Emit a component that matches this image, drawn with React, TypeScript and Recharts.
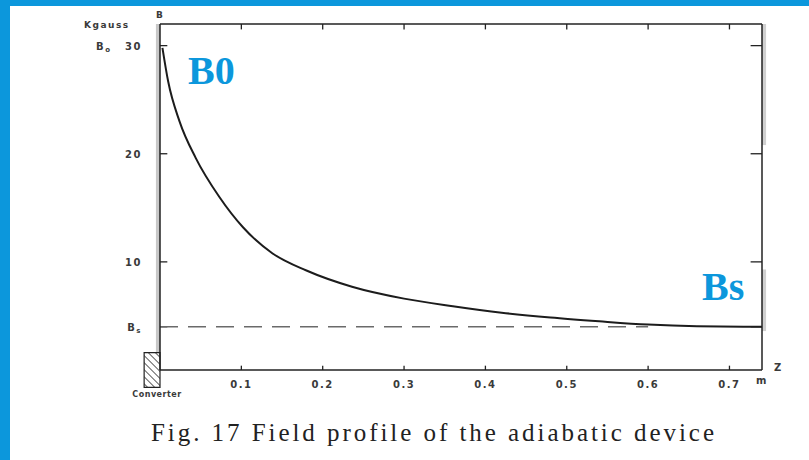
import React from "react";
import {
  ComposedChart,
  Line,
  XAxis,
  YAxis,
  ReferenceLine,
  ReferenceArea,
} from "recharts";

// field profile: position z (m) and field B (kGauss)
const zValues = [0.003, 0.01, 0.024, 0.044, 0.073, 0.102, 0.138, 0.18, 0.236, 0.3, 0.36, 0.42, 0.48, 0.54, 0.6, 0.66, 0.74];
const bValues = [29.8, 26.7, 23.0, 19.6, 16.0, 13.2, 10.8, 9.2, 7.7, 6.6, 5.9, 5.3, 4.85, 4.5, 4.2, 4.05, 4.0];

const xTicks = [0.1, 0.2, 0.3, 0.4, 0.5, 0.6, 0.7];
const yTicks = [4, 10, 20, 30];
const bS = 4; // solenoid field
const dashEnd = 0.6;
const X_MAX = 0.74;
const Y_MAX = 32;

const BLUE = "#0c97dc";
const INK = "#3a3a3a";
const tickFont = { fontFamily: "DejaVu Sans", fontWeight: 700, fontSize: 10, fill: INK, letterSpacing: 1.5 };

const data = zValues.map((z, i) => ({ z, b: bValues[i] }));

const YTick = (props: any) => {
  const { x, y, payload } = props;
  if (payload.value === bS) {
    return (
      <text x={x} y={y} dy={4} textAnchor="end" {...tickFont}>
        B<tspan fontSize={7} dy={2}>s</tspan>
      </text>
    );
  }
  return (
    <g>
      <text x={x} y={y} dy={4} textAnchor="end" {...tickFont}>
        {payload.value}
      </text>
      {payload.value === 30 && (
        <text x={x - 46} y={y} dy={4} textAnchor="start" {...tickFont}>
          B<tspan fontSize={7} dy={2}>o</tspan>
        </text>
      )}
    </g>
  );
};

const tickStroke = { stroke: "#222", strokeWidth: 1.3 };

const App: React.FC = () => {
  return (
    <div style={{ position: "absolute", left: 0, top: 0, width: 809, height: 460, background: BLUE }}>
      <div style={{ position: "absolute", left: 10, top: 6, right: 0, bottom: 0, background: "#fff" }} />
      <div style={{ position: "absolute", left: 0, top: 0 }}>
        <ComposedChart
          width={809}
          height={460}
          data={data}
          margin={{ top: 23, right: 46, bottom: 60, left: 0 }}
        >
          <defs>
            <pattern id="hatch" width="5" height="5" patternUnits="userSpaceOnUse" patternTransform="rotate(-45)">
              <rect width="5" height="5" fill="#fff" />
              <line x1="0" y1="0" x2="0" y2="5" stroke="#333" strokeWidth="1.6" />
            </pattern>
          </defs>
          <XAxis
            xAxisId="b"
            dataKey="z"
            type="number"
            domain={[0, X_MAX]}
            ticks={xTicks}
            orientation="bottom"
            height={30}
            tickLine={false}
            tickMargin={5}
            axisLine={{ stroke: "#222", strokeWidth: 1.5 }}
            tick={tickFont}
          />
          <XAxis
            xAxisId="t"
            dataKey="z"
            type="number"
            domain={[0, X_MAX]}
            ticks={xTicks}
            orientation="top"
            height={1}
            tick={false}
            tickLine={false}
            axisLine={{ stroke: "#222", strokeWidth: 1.5 }}
          />
          <YAxis
            yAxisId="l"
            type="number"
            domain={[0, Y_MAX]}
            ticks={yTicks}
            width={160}
            tickLine={false}
            tickMargin={12}
            axisLine={{ stroke: "#222", strokeWidth: 1.5 }}
            tick={<YTick />}
          />
          <YAxis
            yAxisId="r"
            orientation="right"
            type="number"
            domain={[0, Y_MAX]}
            ticks={yTicks}
            width={1}
            tick={false}
            tickLine={false}
            axisLine={{ stroke: "#222", strokeWidth: 1.5 }}
          />
          <ReferenceArea xAxisId="b" yAxisId="l" x1={-0.005} x2={0} y1={0} y2={Y_MAX} ifOverflow="visible" fill="#c8c8c8" fillOpacity={1} stroke="none" />
          <ReferenceArea xAxisId="b" yAxisId="l" x1={X_MAX} x2={X_MAX + 0.005} y1={20.8} y2={Y_MAX} ifOverflow="visible" fill="#d0d0d0" fillOpacity={1} stroke="none" />
          <ReferenceArea xAxisId="b" yAxisId="l" x1={X_MAX} x2={X_MAX + 0.005} y1={3.6} y2={9.3} ifOverflow="visible" fill="#d0d0d0" fillOpacity={1} stroke="none" />
          <ReferenceArea
            xAxisId="b"
            yAxisId="l"
            x1={-0.0195}
            x2={0}
            y1={-1.6}
            y2={1.6}
            ifOverflow="visible"
            fill="url(#hatch)"
            fillOpacity={1}
            stroke="#222"
            strokeWidth={1.2}
          />
          {yTicks.map((v) => (
            <ReferenceLine key={`l${v}`} xAxisId="b" yAxisId="l" segment={[{ x: 0, y: v }, { x: 0.009, y: v }]} {...tickStroke} />
          ))}
          {yTicks.map((v) => (
            <ReferenceLine key={`r${v}`} xAxisId="b" yAxisId="l" segment={[{ x: X_MAX - 0.014, y: v }, { x: X_MAX, y: v }]} {...tickStroke} />
          ))}
          {xTicks.map((z) => (
            <ReferenceLine key={`t${z}`} xAxisId="b" yAxisId="l" segment={[{ x: z, y: Y_MAX }, { x: z, y: Y_MAX - 0.5 }]} {...tickStroke} />
          ))}
          {xTicks.map((z) => (
            <ReferenceLine key={`b${z}`} xAxisId="b" yAxisId="l" segment={[{ x: z, y: 0 }, { x: z, y: 0.4 }]} {...tickStroke} />
          ))}
          <ReferenceLine
            xAxisId="b"
            yAxisId="l"
            segment={[{ x: 0, y: bS }, { x: dashEnd, y: bS }]}
            stroke="#6a6a6a"
            strokeWidth={1.6}
            strokeDasharray="18 10"
          />
          <Line
            xAxisId="b"
            yAxisId="l"
            dataKey="b"
            type="monotone"
            stroke="#1c1c1c"
            strokeWidth={2}
            dot={false}
            isAnimationActive={false}
          />
          <text x={84} y={28} {...tickFont} fontSize={9}>Kgauss</text>
          <text x={156} y={18} {...tickFont} fontSize={9}>B</text>
          <text x={157} y={397} textAnchor="middle" {...tickFont} fontSize={8} letterSpacing={0.5}>Converter</text>
          <text x={756} y={384} {...tickFont}>m</text>
          <text x={774} y={371} {...tickFont}>Z</text>
          <text x={188} y={84} fontFamily="Liberation Serif" fontWeight={700} fontSize={40} fill={BLUE}>B0</text>
          <text x={702} y={300} fontFamily="Liberation Serif" fontWeight={700} fontSize={40} fill={BLUE}>Bs</text>
          <text
            x={151}
            y={441}
            fontFamily="Liberation Serif"
            fontSize={25}
            fill="#222"
            textLength={563}
            lengthAdjust="spacing"
          >
            Fig. 17  Field profile of the adiabatic device
          </text>
        </ComposedChart>
      </div>
    </div>
  );
};

export default App;
